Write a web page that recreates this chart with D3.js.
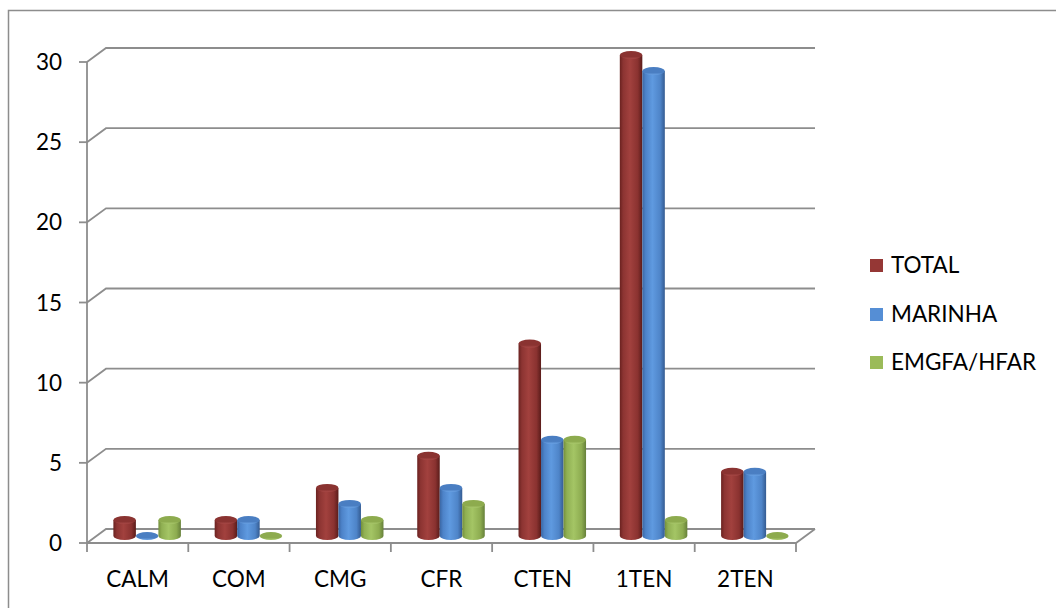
<!DOCTYPE html>
<html>
<head>
<meta charset="utf-8">
<script src="https://cdn.jsdelivr.net/npm/d3@7"></script>
<style>
  html, body { margin: 0; padding: 0; background: #fff; }
  svg { display: block; }
  text { font-family: Lato, "Open Sans", sans-serif; fill: #000; }
</style>
</head>
<body>
<div id="chart"></div>
<script>
const categories = ["CALM", "COM", "CMG", "CFR", "CTEN", "1TEN", "2TEN"];
const seriesNames = ["TOTAL", "MARINHA", "EMGFA/HFAR"];
const totalValues = [1, 1, 3, 5, 12, 30, 4];
const marinhaValues = [0, 1, 2, 3, 6, 29, 4];
const emgfaValues = [1, 0, 1, 2, 6, 1, 0];
const yTicks = [0, 5, 10, 15, 20, 25, 30];

const seriesValues = [totalValues, marinhaValues, emgfaValues];
const palette = {
  "TOTAL":      { legend: "#953735", stops: ["#6a2220", "#8c3432", "#a2413e", "#8a3230", "#5a1c1a"], top: "#8a3331", rim: "#a84846" },
  "MARINHA":    { legend: "#558ed5", stops: ["#3a66a3", "#4d83c9", "#5f9ae0", "#4e84c8", "#345b91"], top: "#4a7ec2", rim: "#6aa2e4" },
  "EMGFA/HFAR": { legend: "#9bbb59", stops: ["#74903c", "#90b053", "#a4c565", "#8dac50", "#66803a"], top: "#8dab4e", rim: "#a9c86c" }
};

const W = 1056, H = 608;
const svg = d3.select("#chart").append("svg").attr("width", W).attr("height", H);
const defs = svg.append("defs");

const x0 = 87, x1 = 796;
const depthX = 19, depthY = -14;
const midX = depthX / 2, midY = depthY / 2;
const lineColor = "#8d8d8d";
const fontSize = "22.5px";

const x = d3.scaleBand().domain(categories).range([x0, x1]);
const xs = d3.scaleBand().domain(seriesNames).range([0, x.bandwidth()]).paddingInner(0).paddingOuter(0.75);
const y = d3.scaleLinear().domain([0, 30]).range([543, 62]);

svg.append("rect").attr("x", 8.5).attr("y", 10.5).attr("width", 1200).attr("height", 800)
  .attr("fill", "none").attr("stroke", lineColor).attr("stroke-width", 1.5);

seriesNames.forEach((s, i) => {
  const g = defs.append("linearGradient").attr("id", "body" + i).attr("x1", "0").attr("x2", "1").attr("y1", "0").attr("y2", "0");
  const offs = [0, 0.15, 0.45, 0.8, 1];
  palette[s].stops.forEach((c, k) => g.append("stop").attr("offset", offs[k]).attr("stop-color", c));
  const t = defs.append("linearGradient").attr("id", "top" + i).attr("x1", "0").attr("x2", "0").attr("y1", "0").attr("y2", "1");
  t.append("stop").attr("offset", 0).attr("stop-color", palette[s].top);
  t.append("stop").attr("offset", 0.7).attr("stop-color", palette[s].top);
  t.append("stop").attr("offset", 1).attr("stop-color", palette[s].rim);
});

const grid = svg.append("g").attr("fill", "none").attr("stroke", lineColor).attr("stroke-width", 1.8);
yTicks.forEach(t => {
  const yy = y(t);
  grid.append("path").attr("d", `M${x0},${yy}L${x0 + depthX},${yy + depthY}L${x1 + depthX},${yy + depthY}`);
});
grid.append("path").attr("d", `M${x0},${y(0)}L${x1},${y(0)}L${x1 + depthX},${y(0) + depthY}`);

const yAxis = svg.append("g");
yAxis.append("line").attr("x1", x0).attr("x2", x0).attr("y1", y(30)).attr("y2", y(0))
  .attr("stroke", lineColor).attr("stroke-width", 1.8);
yTicks.forEach(t => {
  yAxis.append("line").attr("x1", x0 - 8).attr("x2", x0).attr("y1", y(t)).attr("y2", y(t))
    .attr("stroke", lineColor).attr("stroke-width", 1.8);
  yAxis.append("text").attr("x", 62).attr("y", y(t) + 8).attr("text-anchor", "end")
    .attr("font-size", fontSize).text(t);
});

const xAxis = svg.append("g");
const tickXs = categories.map(c => x(c)).concat([x1]);
tickXs.forEach(tx => {
  xAxis.append("line").attr("x1", tx).attr("x2", tx).attr("y1", y(0)).attr("y2", y(0) + 9)
    .attr("stroke", lineColor).attr("stroke-width", 1.8);
});
categories.forEach(c => {
  xAxis.append("text").attr("x", x(c) + x.bandwidth() / 2).attr("y", 587).attr("text-anchor", "middle")
    .attr("font-size", fontSize).text(c);
});

const bars = svg.append("g");
const rx = xs.bandwidth() / 2, ry = 4;
categories.forEach((c, ci) => {
  seriesNames.forEach((s, si) => {
    const v = seriesValues[si][ci];
    const cx = x(c) + xs(s) + rx + midX;
    const yb = y(0) + midY;
    const yt = y(v) + midY;
    if (v > 0) {
      bars.append("path")
        .attr("d", `M${cx - rx},${yt}L${cx - rx},${yb}A${rx},${ry} 0 0 0 ${cx + rx},${yb}L${cx + rx},${yt}Z`)
        .attr("fill", `url(#body${si})`);
    }
    bars.append("ellipse").attr("cx", cx).attr("cy", yt).attr("rx", rx).attr("ry", ry)
      .attr("fill", `url(#top${si})`);
  });
});

const legend = svg.append("g");
const legY = [273, 322, 370];
seriesNames.forEach((s, i) => {
  legend.append("rect").attr("x", 870).attr("y", legY[i] - 14).attr("width", 13).attr("height", 13)
    .attr("fill", palette[s].legend);
  legend.append("text").attr("x", 891).attr("y", legY[i]).attr("font-size", fontSize).text(s);
});
</script>
</body>
</html>
